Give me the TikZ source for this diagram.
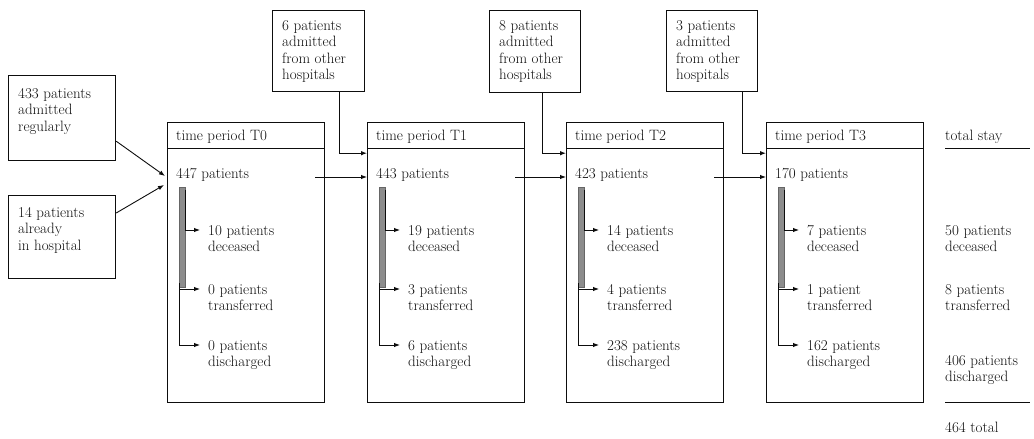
\documentclass[tikz,border=0pt]{standalone}
\usetikzlibrary{arrows.meta,calc}
\colorlet{ink}{black!95}
\begin{document}
\begin{tikzpicture}[x=1pt,y=-1pt,
  every node/.style={font=\fontsize{15}{16.5}\selectfont},
  frame/.style={draw=ink, line width=1.2pt, inner sep=0pt, anchor=north west},
  txt/.style={inner sep=0pt, anchor=north west, align=left, text=ink},
  bar/.style={fill=black!45, draw=black!60, line width=0.4pt, inner sep=0pt,
    minimum width=6pt, minimum height=100pt, anchor=north west},
  arr/.style={draw=ink, line width=0.9pt, -{Latex[length=6pt,width=4.5pt]}},
  rule/.style={draw=ink, line width=1pt}]
\useasboundingbox (0,0) rectangle (1034,439);

% patients at the start
\node[frame, minimum width=107pt, minimum height=85pt] (reg) at (8,75) {};
\node[txt] (regt) at (18,88) {433 patients\\admitted\\regularly};
\node[frame, minimum width=107pt, minimum height=83pt] (hosp) at (8,195) {};
\node[txt] (hospt) at (18,207) {14 patients\\already\\in hospital};

% the four time periods
\foreach \k/\L/\n/\a/\b/\c in {0/167/447/10 patients/0 patients/0 patients,%
1/367/443/19 patients/3 patients/6 patients,%
2/566/423/14 patients/4 patients/238 patients,%
3/766/170/7 patients/1 patient/162 patients}{
  \node[frame, minimum width=157pt, minimum height=26pt] (h\k) at (\L,122) {};
  \node[txt] (ht\k) at (\L+9,130) {time period T\k};
  \node[frame, minimum width=157pt, minimum height=254pt] (b\k) at (\L,148) {};
  \node[txt] (n\k) at (\L+9,168) {\n\ patients};
  \node[bar] (bar\k) at (\L+12,187) {};
  \node[txt] (d\k) at (\L+41,225) {\a\\deceased};
  \node[txt] (t\k) at (\L+41,284) {\b\\transferred};
  \node[txt] (c\k) at (\L+41,340) {\c\\discharged};
  \draw[arr] ($(bar\k.north east)+(0,3)$) |- ($(d\k.north west)+(-8,5)$);
  \draw[arr] ($(bar\k.south west)+(0,-4)$) |- ($(t\k.north west)+(-8,5)$);
  \draw[arr] ($(bar\k.south west)+(0,-4)$) |- ($(c\k.north west)+(-8,5)$);
}

% flow from one period to the next
\foreach \i/\j in {0/1,1/2,2/3}
  \draw[arr] ($(b\i.north east)+(-10,29)$) -- ($(b\j.north west)+(0,29)$);

% admissions from other hospitals
\node[frame, minimum width=92pt, minimum height=81pt] (a1) at (272,10) {};
\node[txt] (a1t) at (282,20) {6 patients\\admitted\\from other\\hospitals};
\node[frame, minimum width=91pt, minimum height=82pt] (a2) at (489,10) {};
\node[txt] (a2t) at (499,20) {8 patients\\admitted\\from other\\hospitals};
\node[frame, minimum width=91pt, minimum height=81pt] (a3) at (666,10) {};
\node[txt] (a3t) at (676,20) {3 patients\\admitted\\from other\\hospitals};
\draw[arr] ($(a1.south east)+(-26,0)$) |- ($(h1.south west)+(0,4)$);
\draw[arr] ($(a2.south east)+(-39,0)$) |- ($(h2.south west)+(0,4)$);
\draw[arr] ($(a3.south east)+(-16,0)$) |- ($(h3.south west)+(0,4)$);

% initial inflow
\draw[arr] ($(reg.south east)+(0,-20)$) -- ($(b0.north west)+(-2,28)$);
\draw[arr] ($(hosp.north east)+(0,18)$) -- ($(b0.north west)+(-3,37)$);

% totals over the whole stay
\node[txt] (ts) at (945,130) {total stay};
\draw[rule] (945,148) -- (1030,148);
\node[txt] (sd) at (945,225) {50 patients\\deceased};
\node[txt] (st) at (945,284) {8 patients\\transferred};
\node[txt] (sc) at (945,355) {406 patients\\discharged};
\draw[rule] (945,402) -- (1030,402);
\node[txt] (tot) at (945,422) {464 total};
\end{tikzpicture}
\end{document}
